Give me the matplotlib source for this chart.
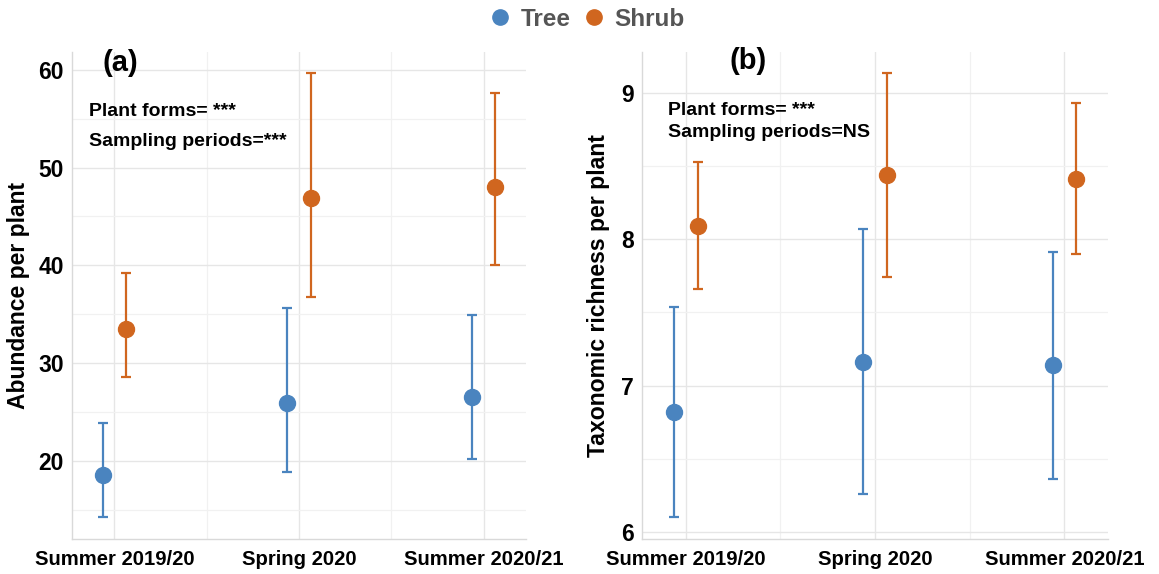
import matplotlib.pyplot as plt
from matplotlib.lines import Line2D
from matplotlib.ticker import MultipleLocator
import numpy as np

plt.rcParams['font.family'] = ['Liberation Sans', 'DejaVu Sans']
plt.rcParams['font.weight'] = 'bold'

periods = ["Summer 2019/20", "Spring 2020", "Summer 2020/21"]
forms = ["Tree", "Shrub"]
colors = {"Tree": "#4a84bf", "Shrub": "#d0661f"}

# abundance per plant: mean, lower, upper
abund_mean = {"Tree": [18.5, 25.9, 26.5], "Shrub": [33.5, 46.9, 48.0]}
abund_low = {"Tree": [14.2, 18.9, 20.2], "Shrub": [28.6, 36.8, 40.0]}
abund_high = {"Tree": [23.9, 35.6, 34.9], "Shrub": [39.2, 59.7, 57.6]}

# taxonomic richness per plant
rich_mean = {"Tree": [6.82, 7.16, 7.14], "Shrub": [8.09, 8.44, 8.41]}
rich_low = {"Tree": [6.10, 6.26, 6.36], "Shrub": [7.66, 7.74, 7.90]}
rich_high = {"Tree": [7.54, 8.07, 7.91], "Shrub": [8.53, 9.14, 8.93]}

fig = plt.figure(figsize=(11.59, 5.74), dpi=100)
ax1 = fig.add_axes([0.0621, 0.061, 0.3917, 0.848])
ax2 = fig.add_axes([0.554, 0.061, 0.402, 0.848])

offsets = {"Tree": -0.063, "Shrub": 0.063}
x = np.arange(len(periods))


def draw(ax, mean, low, high):
    for f in forms:
        m = np.array(mean[f])
        err = [m - np.array(low[f]), np.array(high[f]) - m]
        ax.errorbar(x + offsets[f], m, yerr=err, fmt="o", color=colors[f],
                    markersize=11.5, elinewidth=1.6, capsize=3.6,
                    capthick=1.6, zorder=3)
    ax.set_xlim(-0.23, 2.23)
    ax.set_xticks(x)
    ax.set_xticklabels(periods, fontsize=14.6, fontweight="bold")
    ax.xaxis.set_minor_locator(MultipleLocator(0.5))
    ax.grid(True, which="major", color="#e6e6e6", linewidth=1.0, zorder=0)
    ax.grid(True, which="minor", color="#f1f1f1", linewidth=0.9, zorder=0)
    ax.tick_params(which="both", length=0)
    ax.tick_params(axis="x", pad=8)
    ax.tick_params(axis="y", pad=6, labelsize=16.5)
    for s in ["top", "right"]:
        ax.spines[s].set_visible(False)
    for s in ["left", "bottom"]:
        ax.spines[s].set_color("#d9d9d9")
        ax.spines[s].set_linewidth(1.0)
    for lab in ax.get_yticklabels():
        lab.set_fontweight("bold")


draw(ax1, abund_mean, abund_low, abund_high)
ax1.set_ylim(12.0, 61.8)
ax1.set_yticks([20, 30, 40, 50, 60])
ax1.yaxis.set_minor_locator(MultipleLocator(5))
ax1.set_ylabel("Abundance per plant", fontsize=16.5, fontweight="bold", labelpad=6)
ax1.text(0.106, 0.978, "(a)", transform=ax1.transAxes, fontsize=21,
         fontweight="bold", ha="center", va="center")
ax1.text(0.038, 0.879, "Plant forms= ***", transform=ax1.transAxes,
         fontsize=14, fontweight="bold", va="center")
ax1.text(0.038, 0.817, "Sampling periods=***", transform=ax1.transAxes,
         fontsize=14, fontweight="bold", va="center")

draw(ax2, rich_mean, rich_low, rich_high)
ax2.set_ylim(5.95, 9.28)
ax2.set_yticks([6, 7, 8, 9])
ax2.yaxis.set_minor_locator(MultipleLocator(0.5))
ax2.set_ylabel("Taxonomic richness per plant", fontsize=16.6, fontweight="bold",
               labelpad=8)
ax2.text(0.227, 0.982, "(b)", transform=ax2.transAxes, fontsize=21,
         fontweight="bold", ha="center", va="center")
ax2.text(0.056, 0.881, "Plant forms= ***", transform=ax2.transAxes,
         fontsize=14, fontweight="bold", va="center")
ax2.text(0.056, 0.836, "Sampling periods=NS", transform=ax2.transAxes,
         fontsize=14, fontweight="bold", va="center")

handles = [Line2D([], [], marker="o", linestyle="", color=colors[f],
                  markersize=11) for f in forms]
leg = fig.legend(handles, forms, loc="upper center", bbox_to_anchor=(0.507, 1.025),
                 ncol=2, frameon=False, handlelength=0.8, handletextpad=0.45,
                 columnspacing=0.55, prop={"size": 17.5, "weight": "bold"})
for t in leg.get_texts():
    t.set_color("#555555")

fig.savefig("out.png", dpi=100)
